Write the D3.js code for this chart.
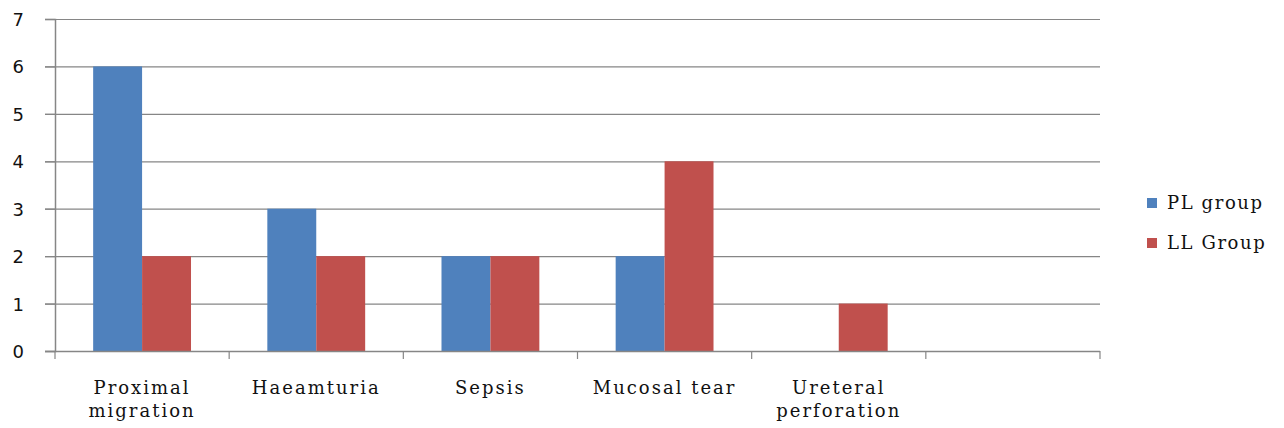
<!DOCTYPE html>
<html>
<head>
<meta charset="utf-8">
<script src="https://cdn.jsdelivr.net/npm/d3@7"></script>
<style>
  html, body { margin: 0; padding: 0; background: #fff; }
  svg { display: block; }
  .cat { font-family: "DejaVu Serif", serif; font-size: 18px; letter-spacing: 2px; fill: #111; }
  .ytick { font-family: "DejaVu Sans", sans-serif; font-size: 18px; fill: #111; }
  .leg { font-family: "DejaVu Serif", serif; font-size: 18px; letter-spacing: 1.6px; fill: #111; }
</style>
</head>
<body>
<svg id="chart" width="1284" height="428"></svg>
<script>
// Complication counts per group
const categories = [
  ["Proximal", "migration"],
  ["Haeamturia"],
  ["Sepsis"],
  ["Mucosal tear"],
  ["Ureteral", "perforation"],
  [""]
];
const seriesNames = ["PL group", "LL Group"];
const plValues = [6, 3, 2, 2, null, null];
const llValues = [2, 2, 2, 4, 1, null];
const yTicks = [0, 1, 2, 3, 4, 5, 6, 7];
const colors = ["#4F81BD", "#C0504D"];

const svg = d3.select("#chart");
const plotLeft = 55, plotRight = 1100, plotTop = 19, plotBottom = 351;

const catKeys = categories.map((c, i) => i);
const x0 = d3.scaleBand().domain(catKeys).range([plotLeft, plotRight]).paddingInner(0).paddingOuter(0);
const x1 = d3.scaleBand().domain(seriesNames).range([0, x0.bandwidth()]).paddingInner(0).paddingOuter(0.78);
const y = d3.scaleLinear().domain([0, 7]).range([plotBottom, plotTop]);

// Horizontal gridlines (with short outside ticks on the left)
svg.append("g")
  .selectAll("line")
  .data(yTicks.filter(t => t > 0))
  .join("line")
  .attr("x1", plotLeft - 10).attr("x2", plotRight)
  .attr("y1", d => y(d) + 0.5).attr("y2", d => y(d) + 0.5)
  .attr("stroke", "#868686").attr("stroke-width", 1.2);

// Bars
const rows = catKeys.map(i => ({ i, vals: [plValues[i], llValues[i]] }));
const groups = svg.append("g").selectAll("g")
  .data(rows).join("g")
  .attr("transform", d => `translate(${x0(d.i)},0)`);
groups.selectAll("rect")
  .data(d => d.vals.map((v, k) => ({ v, k })).filter(e => e.v != null))
  .join("rect")
  .attr("x", e => x1(seriesNames[e.k]))
  .attr("width", x1.bandwidth())
  .attr("y", e => y(e.v))
  .attr("height", e => y(0) - y(e.v))
  .attr("fill", e => colors[e.k]);

// Y axis
const yAxis = d3.axisLeft(y).tickValues(yTicks).tickSize(10).tickPadding(20).tickFormat(d3.format("d"));
const yg = svg.append("g").attr("transform", `translate(${plotLeft},0)`).call(yAxis);
yg.select(".domain").attr("stroke", "#868686").attr("stroke-width", 1.5);
yg.selectAll(".tick line").attr("stroke", "#868686").attr("stroke-width", 1.2);
yg.selectAll(".tick text").attr("class", "ytick").attr("x", -31).attr("dy", "0.36em");

// X axis with ticks at category boundaries
const bounds = catKeys.map(i => x0(i)).concat([plotRight]);
svg.append("line")
  .attr("x1", plotLeft - 10).attr("x2", plotRight)
  .attr("y1", plotBottom + 0.5).attr("y2", plotBottom + 0.5)
  .attr("stroke", "#868686").attr("stroke-width", 1.5);
svg.append("g").selectAll("line")
  .data(bounds).join("line")
  .attr("x1", d => d).attr("x2", d => d)
  .attr("y1", plotBottom).attr("y2", plotBottom + 8)
  .attr("stroke", "#868686").attr("stroke-width", 1.2);

// Category labels
const labels = svg.append("g").selectAll("text")
  .data(rows).join("text")
  .attr("class", "cat")
  .attr("text-anchor", "middle")
  .attr("x", d => x0(d.i) + x0.bandwidth() / 2)
  .attr("y", 394);
labels.selectAll("tspan")
  .data(d => categories[d.i])
  .join("tspan")
  .attr("x", function () { return d3.select(this.parentNode).attr("x"); })
  .attr("dy", (d, k) => k === 0 ? 0 : 23)
  .text(d => d);

// Legend
const leg = svg.append("g").attr("transform", "translate(1147,198)");
const items = leg.selectAll("g").data(seriesNames).join("g")
  .attr("transform", (d, k) => `translate(0,${k * 40})`);
items.append("rect").attr("width", 10).attr("height", 10)
  .attr("fill", (d, k) => colors[k]);
items.append("text").attr("class", "leg").attr("x", 20).attr("y", 11).text(d => d);
</script>
</body>
</html>
